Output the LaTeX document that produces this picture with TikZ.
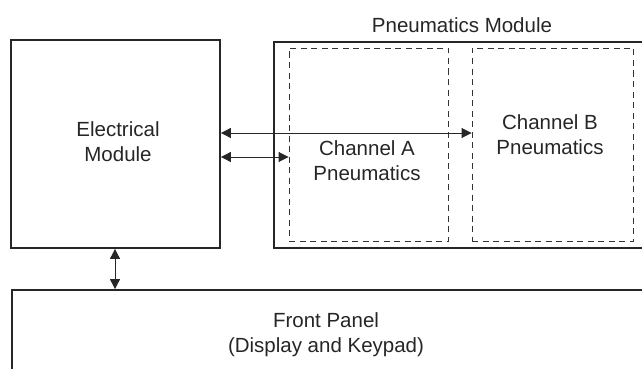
\documentclass[tikz,border=0pt]{standalone}
\usepackage{fontspec}
\setmainfont{Liberation Sans}
\usetikzlibrary{arrows.meta}
\begin{document}
\begin{tikzpicture}[x=1pt,y=-1pt,
  box/.style={draw=black!85, line width=1.8pt, inner sep=0pt},
  dbox/.style={draw=black!80, line width=0.9pt, dash pattern=on 6pt off 4.5pt, inner sep=0pt},
  lbl/.style={font=\fontsize{20.5}{25}\selectfont, text=black!85, align=center},
  link/.style={draw=black!85, line width=0.9pt, {Triangle[length=10pt,width=10pt]}-{Triangle[length=10pt,width=10pt]}}
]
\useasboundingbox (0,0) rectangle (642,369);
\clip (0,0) rectangle (642,369);
% Electrical module
\node[box, minimum width=209pt, minimum height=208pt] (elec) at (115.5,144) {};
\node[lbl] (eleclbl) at (118,142) {Electrical\\Module};
% Pneumatics module
\node[box, minimum width=400pt, minimum height=206pt] (pneu) at (474,145) {};
\node[lbl] (pneulbl) at (462,25) {Pneumatics Module};
% Channels
\node[dbox, minimum width=159pt, minimum height=193pt] (chA) at (368.5,144.5) {};
\node[dbox, minimum width=161pt, minimum height=193pt] (chB) at (552.5,144.5) {};
\node[lbl] (chAlbl) at (367,161) {Channel A\\Pneumatics};
\node[lbl] (chBlbl) at (550,135) {Channel B\\Pneumatics};
% Front panel
\node[box, minimum width=700pt, minimum height=200pt] (front) at (361.7,390) {};
\node[lbl] (frontlbl) at (326,335) {Front Panel\\(Display and Keypad)};
% Connectors
\coordinate (a1) at (elec.east |- 0,133);
\coordinate (b1) at (chB.west |- 0,133);
\coordinate (a2) at (elec.east |- 0,157);
\coordinate (b2) at (chA.west |- 0,157);
\draw[link] (a1) -- (b1);
\draw[link] (a2) -- (b2);
\coordinate (c1) at (elec.south -| 115,0);
\coordinate (c2) at (front.north -| 115,0);
\draw[link] (c1) -- (c2);
\end{tikzpicture}
\end{document}
